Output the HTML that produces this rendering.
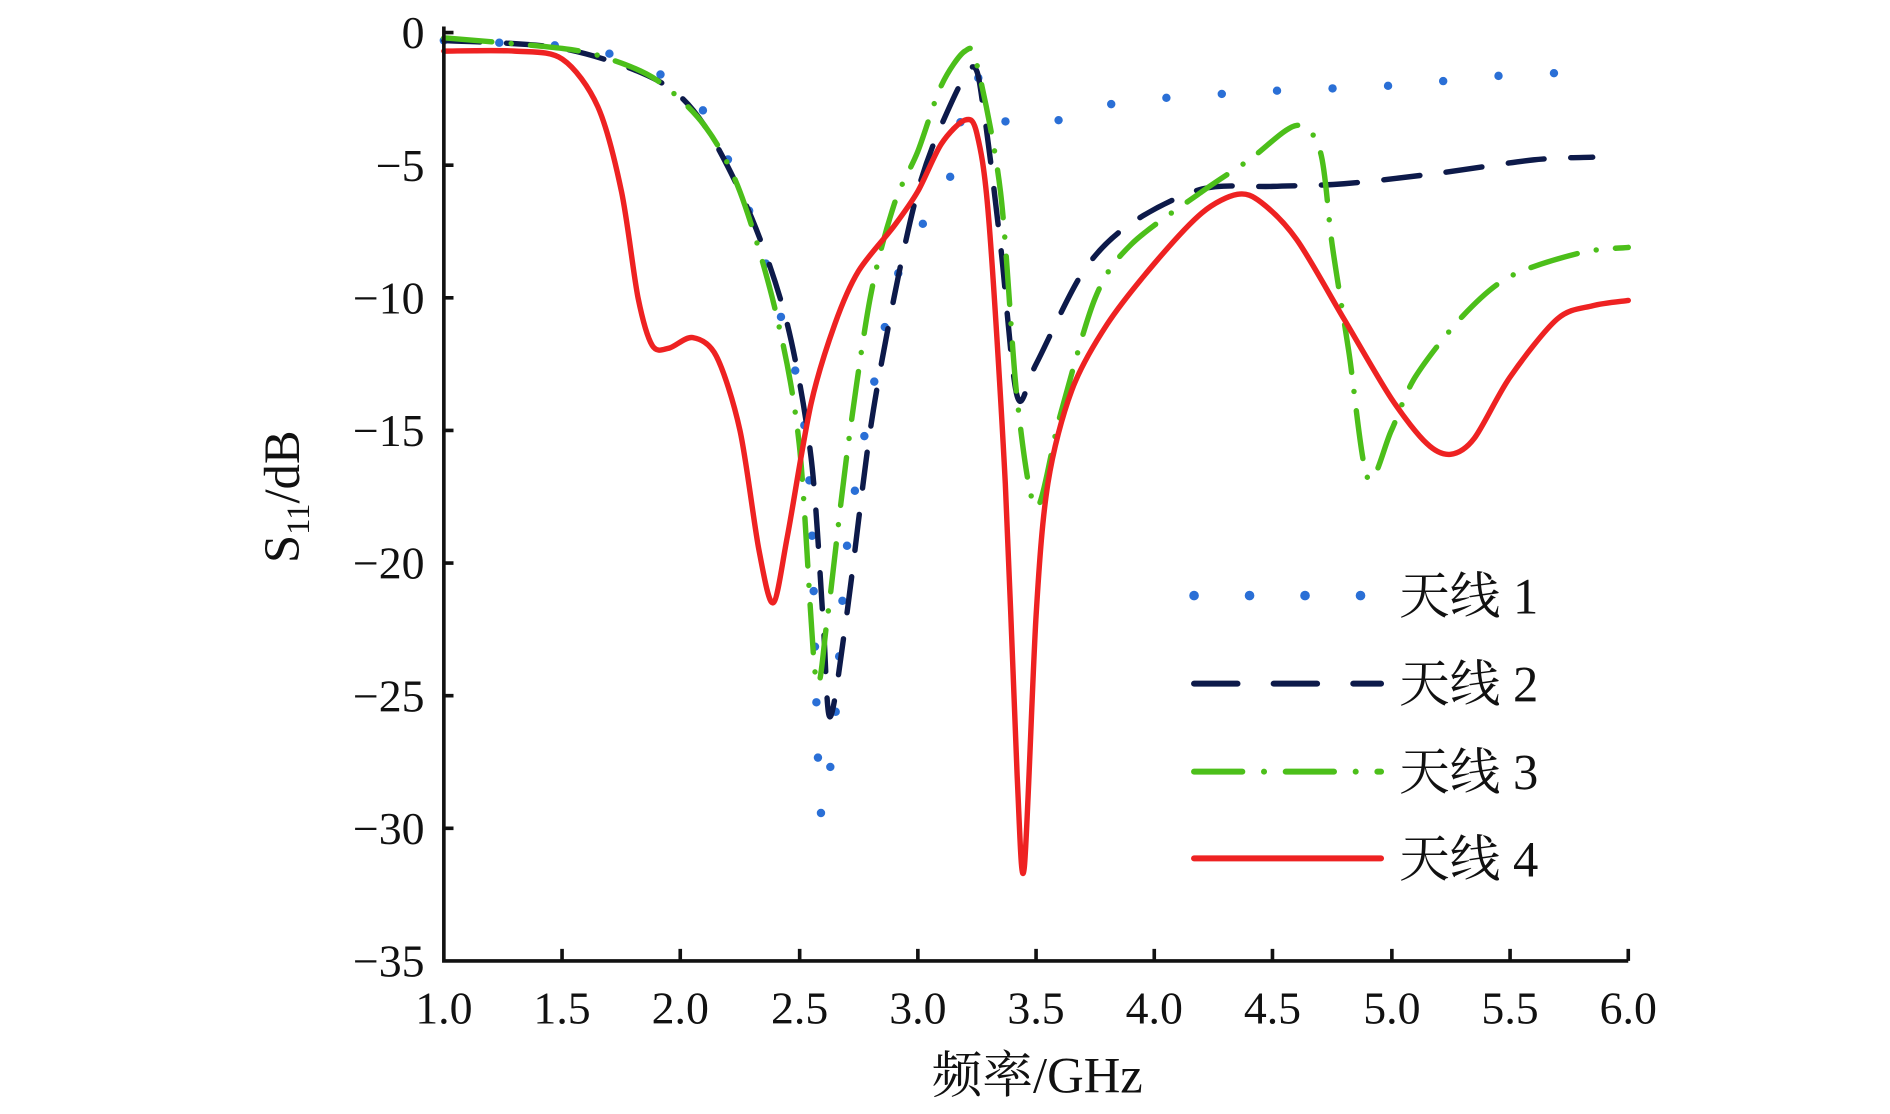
<!DOCTYPE html>
<html><head><meta charset="utf-8"><style>
html,body{margin:0;padding:0;background:#fff;}
svg{display:block;}
text{font-family:"Liberation Serif","Noto Serif CJK SC","Noto Sans CJK SC",serif;fill:#111;}
</style></head><body>
<svg id="s" width="1890" height="1114" viewBox="0 0 1567 924" preserveAspectRatio="none" xmlns="http://www.w3.org/2000/svg">
<g id="curves" fill="none" stroke-linecap="round" stroke-linejoin="round"></g>
<g stroke="#111" stroke-width="3" fill="none">
<path d="M368 22 V797 H1350"/>
<path d="M466 797v-10M564 797v-10M663 797v-10M761 797v-10M859 797v-10M957 797v-10M1055 797v-10M1154 797v-10M1252 797v-10M1350 797v-10"/>
<path d="M368 137h8M368 247h8M368 357h8M368 467h8M368 577h8M368 687h8M368 27h8"/>
</g>
<g font-size="38" text-anchor="end">
<text x="352" y="40">0</text>
<text x="352" y="150">−5</text>
<text x="352" y="260">−10</text>
<text x="352" y="370">−15</text>
<text x="352" y="480">−20</text>
<text x="352" y="590">−25</text>
<text x="352" y="700">−30</text>
<text x="352" y="810">−35</text>
</g>
<g font-size="38" text-anchor="middle">
<text x="368" y="849">1.0</text><text x="466" y="849">1.5</text><text x="564" y="849">2.0</text>
<text x="663" y="849">2.5</text><text x="761" y="849">3.0</text><text x="859" y="849">3.5</text>
<text x="957" y="849">4.0</text><text x="1055" y="849">4.5</text><text x="1154" y="849">5.0</text>
<text x="1252" y="849">5.5</text><text x="1350" y="849">6.0</text>
<text x="860" y="906" font-size="42">频率/GHz</text>
</g>
<text transform="translate(248,412) rotate(-90)" font-size="42" text-anchor="middle">S<tspan font-size="27" dy="8">11</tspan><tspan dy="-8">/dB</tspan></text>
<g stroke-linecap="round" fill="none">
<line x1="990" y1="494" x2="1145" y2="494" stroke="#2a6fd6" stroke-width="8" stroke-dasharray="0 46"/>
<line x1="990" y1="567" x2="1145" y2="567" stroke="#0d1a4a" stroke-width="5" stroke-dasharray="36 30"/>
<line x1="990" y1="640" x2="1145" y2="640" stroke="#4cbf1a" stroke-width="5" stroke-dasharray="40 18 0 18"/>
<line x1="990" y1="712" x2="1145" y2="712" stroke="#ee2222" stroke-width="5"/>
</g>
<g font-size="42">
<text x="1160" y="509">天线 1</text><text x="1160" y="582">天线 2</text>
<text x="1160" y="655">天线 3</text><text x="1160" y="727">天线 4</text>
</g>
</svg>
<script>
var D={
a1:[[1,-0.3],[1.5,-0.5],[1.7,-0.8],[1.9,-1.5],[2.1,-3],[2.2,-4.8],[2.3,-7],[2.4,-10],[2.5,-13.5],[2.55,-18],[2.59,-29.3],[2.65,-26],[2.7,-19.5],[2.8,-14],[2.9,-9.6],[3.0,-7.5],[3.12,-6],[3.2,-2.5],[3.25,-1.6],[3.3,-3],[3.5,-3.6],[3.7,-2.9],[4.0,-2.5],[4.5,-2.2],[5.0,-2],[5.5,-1.6],[5.85,-1.5]],
a2:[[1,-0.3],[1.5,-0.6],[1.9,-1.8],[2.1,-3.5],[2.3,-7],[2.45,-11],[2.55,-16],[2.6,-22],[2.63,-25.8],[2.7,-22],[2.8,-15],[2.9,-10],[3.0,-6],[3.1,-3.5],[3.23,-1.3],[3.28,-3],[3.35,-8],[3.42,-13.7],[3.5,-12.5],[3.7,-9],[3.9,-7.2],[4.2,-5.9],[4.5,-5.8],[4.8,-5.7],[5.2,-5.3],[5.6,-4.8],[5.85,-4.7]],
a3:[[1,-0.2],[1.5,-0.6],[1.7,-1],[1.9,-1.8],[2.1,-3.5],[2.25,-6],[2.4,-10.5],[2.5,-15.5],[2.57,-24.3],[2.62,-22],[2.7,-16],[2.8,-10],[2.9,-6.5],[3.0,-4.5],[3.1,-2],[3.2,-0.7],[3.25,-1.2],[3.35,-6],[3.42,-13.8],[3.5,-17.9],[3.6,-14.5],[3.75,-10],[3.9,-8],[4.2,-6],[4.4,-4.8],[4.6,-3.5],[4.7,-4.5],[4.75,-8],[4.82,-12],[4.9,-16.8],[5.0,-15],[5.1,-13],[5.3,-10.7],[5.5,-9.2],[5.8,-8.3],[6.0,-8.1]],
a4:[[1,-0.7],[1.3,-0.7],[1.5,-1],[1.65,-2.8],[1.75,-6],[1.82,-10],[1.88,-11.8],[1.95,-11.9],[2.05,-11.5],[2.15,-12.2],[2.25,-15],[2.33,-19.5],[2.39,-21.5],[2.45,-19],[2.55,-14],[2.65,-11],[2.75,-9],[2.9,-7.3],[3.0,-6],[3.1,-4.2],[3.2,-3.3],[3.25,-3.8],[3.3,-7],[3.37,-17],[3.42,-28],[3.45,-31.5],[3.5,-22],[3.55,-17],[3.65,-13.5],[3.8,-11],[4.0,-8.7],[4.2,-6.8],[4.35,-6.1],[4.45,-6.4],[4.6,-7.8],[4.8,-10.8],[5.0,-13.8],[5.15,-15.5],[5.25,-15.9],[5.35,-15.3],[5.5,-13],[5.7,-10.8],[5.85,-10.3],[6.0,-10.1]]};
function P(a){var p=a.map(function(d){return[171.6+196.4*d[0],27-22*d[1]];});
var s="M"+p[0][0].toFixed(1)+" "+p[0][1].toFixed(1);
for(var i=0;i<p.length-1;i++){var p0=p[i>0?i-1:0],p1=p[i],p2=p[i+1],p3=p[i+2<p.length?i+2:i+1];
var t=0.9/6;s+="C"+(p1[0]+(p2[0]-p0[0])*t).toFixed(1)+" "+(p1[1]+(p2[1]-p0[1])*t).toFixed(1)+" "+(p2[0]-(p3[0]-p1[0])*t).toFixed(1)+" "+(p2[1]-(p3[1]-p1[1])*t).toFixed(1)+" "+p2[0].toFixed(1)+" "+p2[1].toFixed(1);}
return s;}
var st={a1:'stroke="#2a6fd6" stroke-width="7" stroke-dasharray="0 46"',a2:'stroke="#0d1a4a" stroke-width="4.5" stroke-dasharray="30 22"',a3:'stroke="#4cbf1a" stroke-width="4.5" stroke-dasharray="40 16 0 16"',a4:'stroke="#ee2222" stroke-width="4.5"'};
var h="";["a1","a2","a3","a4"].forEach(function(k){h+='<path d="'+P(D[k])+'" '+st[k]+'/>';});
document.getElementById("curves").innerHTML=h;
</script>
</body></html>
